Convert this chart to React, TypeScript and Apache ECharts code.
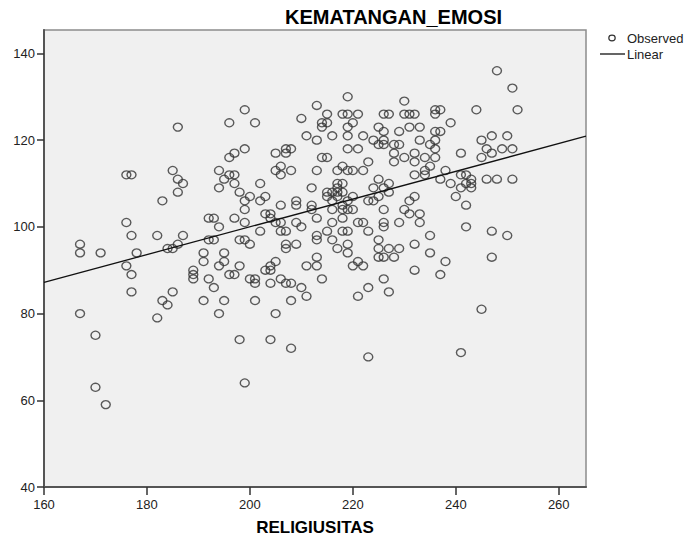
import React, { useEffect, useRef } from 'react';
import * as echarts from 'echarts';

// RELIGIUSITAS score levels (x) and the KEMATANGAN_EMOSI scores observed at each level (y)
const religiusitas = [
  167, 170, 171, 172, 176, 177, 178, 182, 183, 184, 185, 186, 187, 189, 191, 192, 193, 194, 195, 196,
  197, 198, 199, 200, 201, 202, 203, 204, 205, 206, 207, 208, 209, 210, 211, 212, 213, 214, 215, 216,
  217, 218, 219, 220, 221, 222, 223, 224, 225, 226, 227, 228, 229, 230, 231, 232, 233, 234, 235, 236,
  237, 238, 239, 240, 241, 242, 243, 244, 245, 246, 247, 248, 249, 250, 251, 252,
];
const kematanganEmosi = [
  [96, 94, 80], [75, 63], [94], [59], [112, 101, 91], [112, 98, 89, 85], [94], [98, 79], [106, 83], [95, 82],
  [113, 95, 85], [123, 111, 108, 96], [110, 98], [90, 89, 88], [94, 92, 83], [102, 97, 88], [102, 97, 86],
  [113, 109, 100, 91, 80], [111, 94, 92, 83], [124, 116, 112, 89],
  [117, 112, 110, 102, 89], [108, 97, 91, 74], [127, 118, 106, 104, 101, 97, 64], [107, 96, 88],
  [124, 88, 87, 83], [110, 106, 99], [107, 103, 90], [103, 102, 91, 90, 87, 74], [117, 113, 101, 92, 80],
  [114, 112, 105, 101, 99, 88], [118, 117, 99, 96, 95, 87], [118, 113, 87, 83, 72], [106, 105, 101, 96],
  [125, 100, 86], [121, 91, 84], [109, 105, 104], [128, 120, 113, 102, 98, 97, 93, 91], [124, 123, 116, 88],
  [126, 124, 116, 108, 107, 99], [121, 108, 106, 104, 101, 97],
  [113, 110, 109, 108, 107, 95], [126, 114, 110, 108, 105, 104, 102, 99],
  [130, 126, 123, 121, 118, 113, 106, 104, 99, 96, 94], [124, 113, 107, 104, 91], [126, 118, 101, 92, 84],
  [121, 113, 101, 91], [115, 106, 99, 86, 70], [120, 109, 106], [123, 119, 111, 107, 97, 95, 93],
  [126, 122, 120, 119, 109, 104, 101, 100, 93, 88], [126, 110, 108, 95, 85], [119, 117, 115, 93],
  [122, 119, 101, 95], [129, 126, 116, 104], [126, 123, 106, 103], [126, 117, 115, 112, 107, 96, 90],
  [123, 120, 103, 101], [116, 113, 112], [119, 114, 98, 94], [127, 126, 122, 120, 118, 116],
  [127, 122, 111, 89], [113, 92], [124, 110], [107], [117, 112, 109, 71], [112, 110, 105, 100],
  [111, 110, 109], [127], [120, 116, 81], [118, 111], [121, 117, 99, 93], [136, 111], [118], [121, 98],
  [132, 118, 111], [127],
];

// Linear fit line endpoints (read at the plot edges)
const linearX = [160, 265.3];
const linearY = [87.2, 120.9];

const xTicks = [160, 180, 200, 220, 240, 260];
const yTicks = [40, 60, 80, 100, 120, 140];

const FONT = '"Liberation Sans", Arial, sans-serif';

export default function App() {
  const ref = useRef<HTMLDivElement>(null);

  useEffect(() => {
    if (!ref.current) return;
    const chart = echarts.init(ref.current, null, { renderer: 'svg' });

    const observed: number[][] = [];
    religiusitas.forEach((x, i) => {
      kematanganEmosi[i].forEach((y) => observed.push([x, y]));
    });
    const linear = linearX.map((x, i) => [x, linearY[i]]);

    chart.setOption({
      animation: false,
      backgroundColor: '#ffffff',
      textStyle: { fontFamily: FONT },
      title: {
        text: 'KEMATANGAN_EMOSI',
        left: 280,
        top: 2,
        textStyle: { fontSize: 20, fontWeight: 'bold', color: '#000', fontFamily: FONT },
      },
      grid: {
        left: 44,
        right: 103,
        top: 30,
        bottom: 51,
        show: true,
        containLabel: false,
        outerBoundsMode: 'none',
        backgroundColor: '#f0f0f0',
        borderColor: '#8c8c8c',
        borderWidth: 1.5,
      },
      xAxis: {
        type: 'value',
        min: 160,
        max: 265.3,
        interval: 20,
        name: 'RELIGIUSITAS',
        nameLocation: 'middle',
        nameGap: 32,
        nameTextStyle: { fontSize: 17, fontWeight: 'bold', color: '#000', fontFamily: FONT },
        axisLine: { show: true, onZero: false, lineStyle: { color: '#555', width: 2 } },
        axisTick: { show: true, length: 8, customValues: xTicks, lineStyle: { color: '#333', width: 1.5 } },
        axisLabel: { customValues: xTicks, margin: 11, fontSize: 13, color: '#222', fontFamily: FONT },
        splitLine: { show: false },
      },
      yAxis: {
        type: 'value',
        min: 40,
        max: 145.4,
        interval: 20,
        axisLine: { show: true, onZero: false, lineStyle: { color: '#555', width: 2 } },
        axisTick: { show: true, length: 7, customValues: yTicks, lineStyle: { color: '#333', width: 1.5 } },
        axisLabel: { customValues: yTicks, margin: 9, fontSize: 13, color: '#222', fontFamily: FONT },
        splitLine: { show: false },
      },
      series: [
        {
          name: 'Observed',
          type: 'scatter',
          data: observed,
          symbol: 'circle',
          symbolSize: [9, 8],
          silent: true,
          itemStyle: { color: 'rgba(0,0,0,0)', borderColor: '#333', borderWidth: 1.35 },
          z: 2,
        },
        {
          name: 'Linear',
          type: 'line',
          data: linear,
          showSymbol: false,
          silent: true,
          lineStyle: { color: '#111', width: 1.3 },
          z: 3,
        },
      ],
      graphic: [
        {
          type: 'ellipse',
          shape: { cx: 612, cy: 38, rx: 3.2, ry: 2.8 },
          style: { fill: 'none', stroke: '#333', lineWidth: 1.2 },
        },
        {
          type: 'text',
          x: 627,
          y: 38,
          style: { text: 'Observed', fontSize: 13, fontFamily: FONT, fill: '#222', verticalAlign: 'middle' },
        },
        {
          type: 'line',
          shape: { x1: 600, y1: 54, x2: 625, y2: 54 },
          style: { stroke: '#111', lineWidth: 1.3 },
        },
        {
          type: 'text',
          x: 627,
          y: 54,
          style: { text: 'Linear', fontSize: 13, fontFamily: FONT, fill: '#222', verticalAlign: 'middle' },
        },
      ],
    });

    return () => chart.dispose();
  }, []);

  return <div ref={ref} style={{ position: 'absolute', left: 0, top: 0, width: 689, height: 538 }} />;
}
